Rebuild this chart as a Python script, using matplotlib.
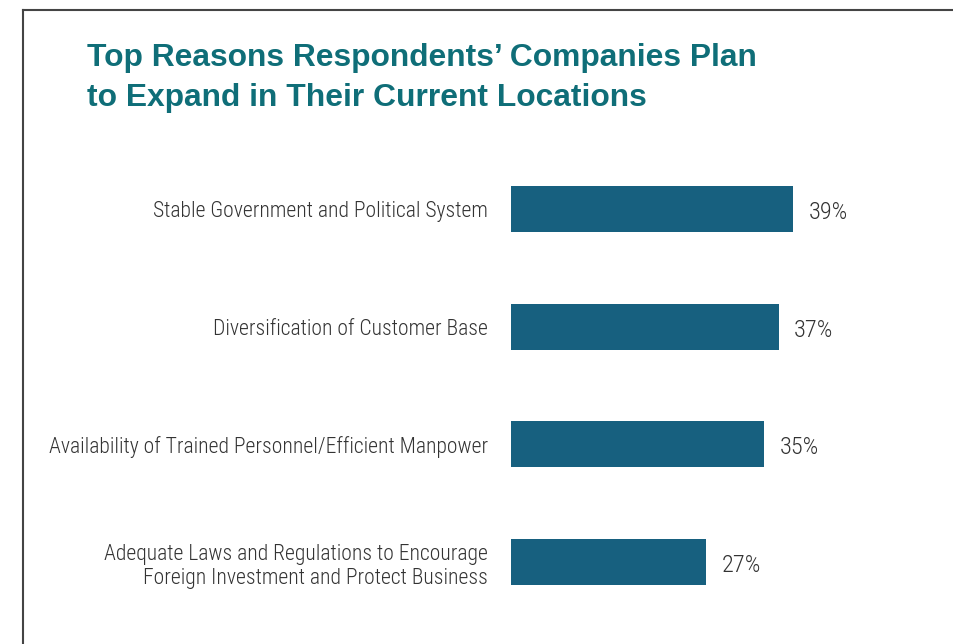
import matplotlib
matplotlib.use('Agg')
import matplotlib.pyplot as plt
from matplotlib.lines import Line2D

# data
reasons = [
    "Stable Government and Political System",
    "Diversification of Customer Base",
    "Availability of Trained Personnel/Efficient Manpower",
    "Adequate Laws and Regulations to Encourage\nForeign Investment and Protect Business",
]
shares = [39, 37, 35, 27]

TITLE = "Top Reasons Respondents\u2019 Companies Plan\nto Expand in Their Current Locations"
BAR_COLOR = "#17607F"
TITLE_COLOR = "#0F6E78"
TEXT_COLOR = "#333333"
LABEL_FONT = ["Roboto Condensed", "DejaVu Sans"]

W, H = 954, 644
fig = plt.figure(figsize=(W / 100, H / 100), dpi=100)
fig.patch.set_facecolor("white")

# axes placed so bars line up with the reference
ax = fig.add_axes([511 / W, 1 - 621 / H, (900 - 511) / W, 471 / H])
ypos = list(range(len(reasons)))
ax.barh(ypos, shares, height=0.39, color=BAR_COLOR)
ax.set_xlim(0, 389 / (282 / 39))
ax.set_ylim(len(reasons) - 0.5, -0.5)

ax.set_yticks(ypos)
ax.set_yticklabels(reasons, family=LABEL_FONT, weight=300, fontsize=15.6,
                   color=TEXT_COLOR, linespacing=1.2)
ax.tick_params(axis="y", length=0, pad=16.5)
ax.set_xticks([])
for s in ax.spines.values():
    s.set_visible(False)

for y, v in zip(ypos, shares):
    ax.annotate(f"{v}%", (v, y), xytext=(11, -2.5), textcoords="offset points",
                va="center", ha="left", family=LABEL_FONT, weight=300,
                fontsize=17.5, color=TEXT_COLOR)

fig.text(87 / W, 1 - 43 / H, TITLE, ha="left", va="top",
         family=["Liberation Sans", "DejaVu Sans"], weight="bold",
         fontsize=22.9, color=TITLE_COLOR, linespacing=1.45)

# frame lines (left and top) as in the source page
fig.add_artist(Line2D([22.5 / W, 22.5 / W], [0, 1 - 10 / H],
                      transform=fig.transFigure, color="#444444", lw=1.5))
fig.add_artist(Line2D([22.5 / W, 1], [1 - 10 / H, 1 - 10 / H],
                      transform=fig.transFigure, color="#444444", lw=1.5))

fig.savefig("out.png", dpi=100, facecolor="white")
